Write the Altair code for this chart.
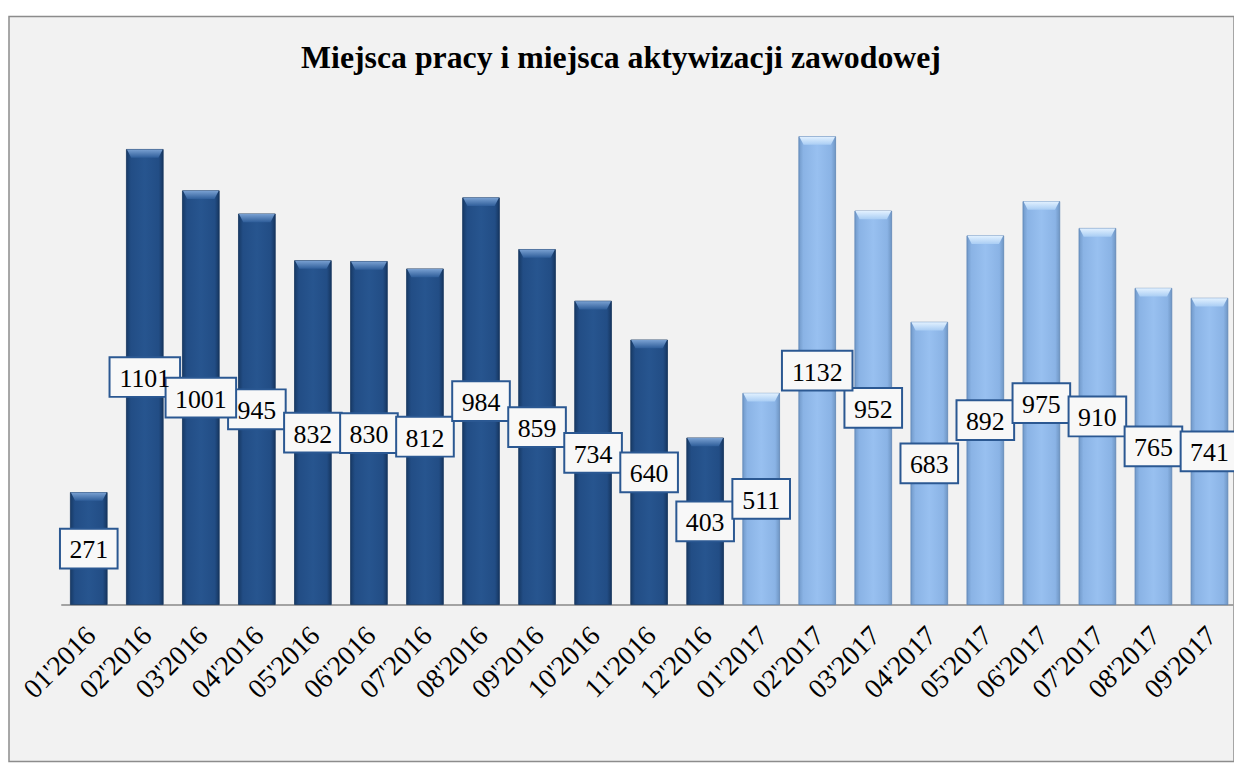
import altair as alt
import pandas as pd

months = ["01'2016", "02'2016", "03'2016", "04'2016", "05'2016", "06'2016",
          "07'2016", "08'2016", "09'2016", "10'2016", "11'2016", "12'2016",
          "01'2017", "02'2017", "03'2017", "04'2017", "05'2017", "06'2017",
          "07'2017", "08'2017", "09'2017"]
values_2016 = [271, 1101, 1001, 945, 832, 830, 812, 984, 859, 734, 640, 403]
values_2017 = [511, 1132, 952, 683, 892, 975, 910, 765, 741]
years = ["2016"] * len(values_2016) + ["2017"] * len(values_2017)
title_text = "Miejsca pracy i miejsca aktywizacji zawodowej"

df = pd.DataFrame({"m": months, "v": values_2016 + values_2017, "yr": years})
df["mid"] = df["v"] / 2
df["lbl"] = df["v"].astype(str)
df["wide"] = df["v"] >= 1000

serif = "Liberation Serif"

xenc = alt.X("m:N", sort=months,
             scale=alt.Scale(range=[52.1, 1236.5], paddingInner=0.344, paddingOuter=0.172),
             axis=alt.Axis(title=None, labelAngle=-45, labelFont=serif, labelFontSize=28,
                           labelColor="black", ticks=False, labelPadding=17, labelOffset=-7,
                           domainColor="#a3a3a3", domainWidth=2, grid=False,
                           labelOverlap=False, offset=-158))
yscale = alt.Scale(domain=[0, 1400], range=[592, 9.5])

dark_grad = alt.LinearGradient(gradient="linear", x1=0, x2=1, y1=0, y2=0, stops=[
    alt.GradientStop(offset=0, color="#173a66"),
    alt.GradientStop(offset=0.12, color="#224d85"),
    alt.GradientStop(offset=0.5, color="#27558f"),
    alt.GradientStop(offset=0.88, color="#224d85"),
    alt.GradientStop(offset=1, color="#163660")])
light_grad = alt.LinearGradient(gradient="linear", x1=0, x2=1, y1=0, y2=0, stops=[
    alt.GradientStop(offset=0, color="#7199c9"),
    alt.GradientStop(offset=0.12, color="#8ab3e5"),
    alt.GradientStop(offset=0.5, color="#98c0f0"),
    alt.GradientStop(offset=0.88, color="#8ab3e5"),
    alt.GradientStop(offset=1, color="#6f96c4")])
dark_bevel = alt.LinearGradient(gradient="linear", x1=0, x2=0, y1=0, y2=1, stops=[
    alt.GradientStop(offset=0, color="#7aa1d2"),
    alt.GradientStop(offset=1, color="#2f5e9a")])
light_bevel = alt.LinearGradient(gradient="linear", x1=0, x2=0, y1=0, y2=1, stops=[
    alt.GradientStop(offset=0, color="#e2f1ff"),
    alt.GradientStop(offset=1, color="#a9cdf4")])

base = alt.Chart(df)

bars16 = base.transform_filter("datum.yr == '2016'").mark_bar(
    color=dark_grad, stroke="#15355e", strokeWidth=0.8).encode(
    x=xenc, y=alt.Y("v:Q", scale=yscale, axis=None))
bars17 = base.transform_filter("datum.yr == '2017'").mark_bar(
    color=light_grad, stroke="#5f86b6", strokeWidth=0.8).encode(
    x=xenc, y=alt.Y("v:Q", scale=yscale, axis=None))

bevel_shape = "M-1,0L1,0L0.76,0.46L-0.76,0.46Z"
bev16 = base.transform_filter("datum.yr == '2016'").mark_point(
    shape=bevel_shape, size=1296, filled=True, fill=dark_bevel, opacity=1, strokeWidth=0).encode(
    x=xenc, y=alt.Y("v:Q", scale=yscale, axis=None))
bev17 = base.transform_filter("datum.yr == '2017'").mark_point(
    shape=bevel_shape, size=1296, filled=True, fill=light_bevel, opacity=1, strokeWidth=0).encode(
    x=xenc, y=alt.Y("v:Q", scale=yscale, axis=None))

box3 = base.transform_filter("!datum.wide").mark_point(
    shape="M-1,-0.69H1V0.69H-1Z", size=3364, filled=False, fill="#f8f8f8",
    stroke="#2b5892", strokeWidth=2, opacity=1).encode(
    x=xenc, y=alt.Y("mid:Q", scale=yscale, axis=None))
box4 = base.transform_filter("datum.wide").mark_point(
    shape="M-1,-0.563H1V0.563H-1Z", size=5041, filled=False, fill="#f8f8f8",
    stroke="#2b5892", strokeWidth=2, opacity=1).encode(
    x=xenc, y=alt.Y("mid:Q", scale=yscale, axis=None))

labels = base.mark_text(font=serif, fontSize=26, color="black", baseline="middle",
                        align="center", dy=2).encode(
    x=xenc, y=alt.Y("mid:Q", scale=yscale, axis=None), text="lbl:N")

title = alt.Chart(pd.DataFrame({"t": [title_text]})).mark_text(
    font=serif, fontSize=32, fontWeight="bold", color="black",
    align="center", baseline="alphabetic").encode(
    x=alt.value(616), y=alt.value(52), text="t:N")

chart = alt.layer(bars16, bars17, bev16, bev17, box3, box4, labels, title).properties(
    width=1233, height=750,
    autosize=alt.AutoSizeParams(type="none"),
    padding={"left": 1, "top": 6, "right": 0, "bottom": 0},
    background="white",
).configure_view(fill="#f2f2f2", stroke="#8c8c8c", strokeWidth=1.5)

chart.save("out.html", embed_options={"renderer": "svg", "actions": False})
